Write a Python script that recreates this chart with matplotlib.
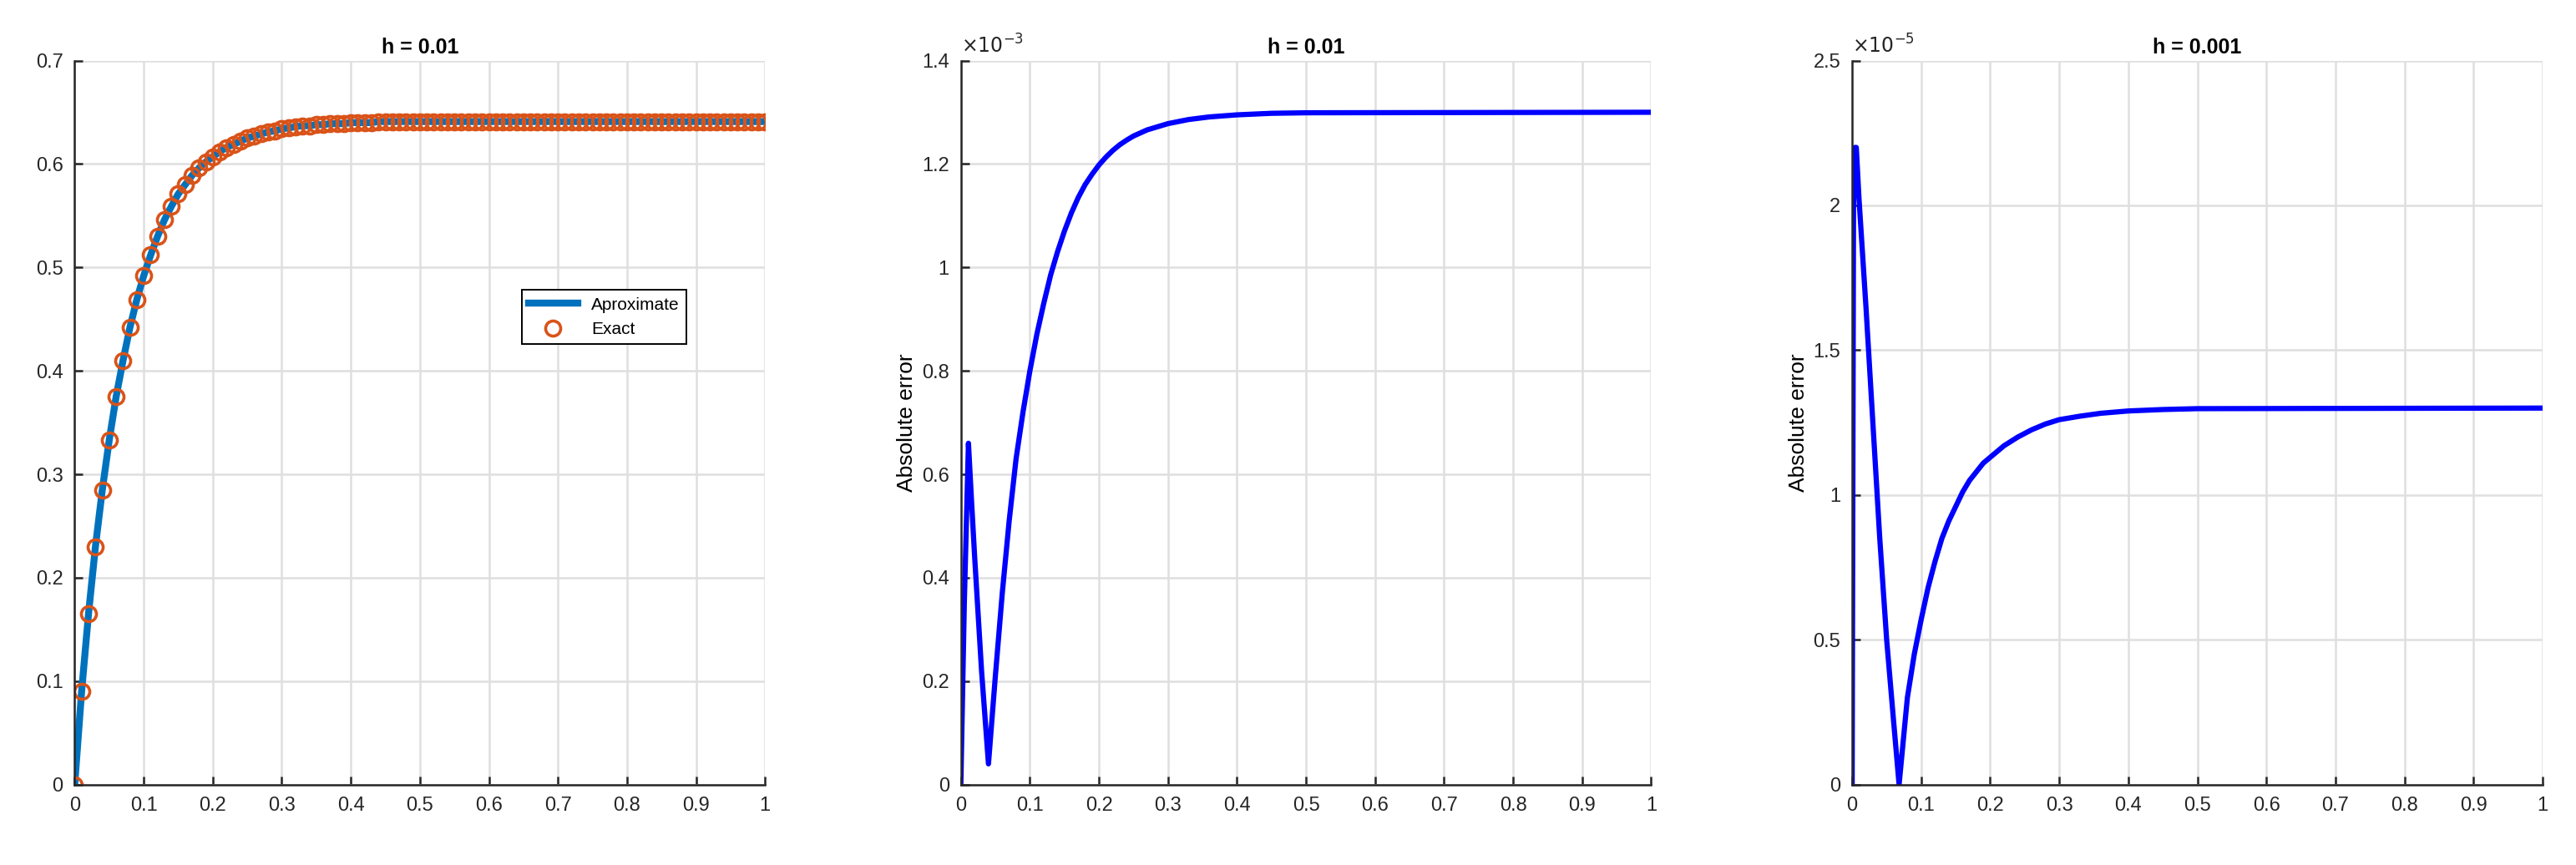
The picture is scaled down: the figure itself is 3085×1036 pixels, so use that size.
import matplotlib
matplotlib.use("Agg")
import matplotlib.pyplot as plt
import numpy as np

plt.rcParams['font.family'] = ['Liberation Sans', 'DejaVu Sans']

t_exact = [i/100 for i in range(101)]
u_exact = [0.0, 0.09, 0.165, 0.23, 0.285, 0.333, 0.375, 0.41, 0.442, 0.469, 0.492,
           0.512, 0.53, 0.546, 0.559, 0.571, 0.58, 0.589, 0.596, 0.602, 0.607,
           0.612, 0.616, 0.619, 0.622, 0.625, 0.627, 0.629, 0.631, 0.632, 0.634,
           0.635, 0.636, 0.637, 0.637, 0.638, 0.638, 0.639, 0.639, 0.639, 0.640,
           0.640, 0.640, 0.640, 0.641, 0.641] + [0.641]*55
u_approx = u_exact

t_err1 = [0, 0.005, 0.011, 0.015, 0.02, 0.03, 0.04, 0.05, 0.06, 0.07, 0.08, 0.09, 0.1,
          0.11, 0.12, 0.13, 0.14, 0.15, 0.16, 0.17, 0.18, 0.19, 0.2, 0.21, 0.22, 0.23,
          0.24, 0.25, 0.27, 0.3, 0.33, 0.36, 0.4, 0.45, 0.5, 1.0]
err1 = [0, 0.35, 0.66, 0.56, 0.44, 0.22, 0.04, 0.21, 0.37, 0.51, 0.63, 0.72, 0.80,
        0.87, 0.93, 0.985, 1.03, 1.07, 1.105, 1.135, 1.16, 1.18, 1.198, 1.213, 1.226, 1.237,
        1.246, 1.254, 1.266, 1.278, 1.286, 1.291, 1.295, 1.298, 1.299, 1.3]

t_err2 = [0, 0.001, 0.002, 0.004, 0.006, 0.01, 0.02, 0.03, 0.04, 0.05, 0.06, 0.068,
          0.08, 0.09, 0.1, 0.11, 0.12, 0.13, 0.14, 0.15, 0.16, 0.17, 0.18, 0.19, 0.2,
          0.22, 0.24, 0.26, 0.28, 0.3, 0.33, 0.36, 0.4, 0.45, 0.5, 1.0]
err2 = [0, 1.0, 2.0, 2.2, 2.2, 2.02, 1.65, 1.25, 0.85, 0.5, 0.22, 0.0,
        0.3, 0.45, 0.57, 0.68, 0.77, 0.85, 0.91, 0.96, 1.01, 1.05, 1.08, 1.11, 1.13,
        1.17, 1.20, 1.225, 1.245, 1.26, 1.272, 1.282, 1.29, 1.295, 1.298, 1.3]

fig = plt.figure(figsize=(30.85, 10.36), dpi=100)
pos = [0.029, 0.373, 0.719]
axes = [fig.add_axes([p, 0.093, 0.268, 0.837]) for p in pos]

def style(ax):
    ax.grid(True, color='#dfdfdf', linewidth=1.8)
    ax.set_axisbelow(True)
    for s in ['top', 'right']:
        ax.spines[s].set_visible(False)
    for s in ['left', 'bottom']:
        ax.spines[s].set_linewidth(1.8)
        ax.spines[s].set_color('#262626')
    ax.tick_params(direction='in', labelsize=17, colors='#262626', length=7, width=1.8, pad=10)
    ax.set_xlim(0, 1)
    ax.set_xticks(np.arange(0, 1.01, 0.1))
    ax.set_xticklabels(['0'] + [f'{v:.1f}' for v in np.arange(0.1, 0.95, 0.1)] + ['1'])

ax = axes[0]
style(ax)
ax.plot(t_exact, u_approx, color='#0072bd', lw=6, label='Aproximate')
ax.plot(t_exact, u_exact, 'o', ms=13, mfc='none', mec='#d95319', mew=2.6, label='Exact', ls='none')
ax.set_ylim(0, 0.7)
ax.set_yticks(np.arange(0, 0.71, 0.1))
ax.set_yticklabels(['0'] + [f'{v:.1f}' for v in np.arange(0.1, 0.71, 0.1)])
ax.set_title('h = 0.01', fontsize=18, fontweight='bold')
leg = ax.legend(loc='upper left', bbox_to_anchor=(0.635, 0.695), fontsize=15,
                fancybox=False, edgecolor='black', framealpha=1, handlelength=2.8)
leg.get_frame().set_linewidth(1.4)

ax = axes[1]
style(ax)
ax.plot(t_err1, err1, color='blue', lw=4.5)
ax.set_ylim(0, 1.4)
ax.set_yticks(np.arange(0, 1.41, 0.2))
ax.set_yticklabels(['0', '0.2', '0.4', '0.6', '0.8', '1', '1.2', '1.4'])
ax.set_ylabel('Absolute error', fontsize=19)
ax.set_title('h = 0.01', fontsize=18, fontweight='bold')
ax.text(0.0, 1.005, r'$\times10^{-3}$', transform=ax.transAxes, fontsize=17, va='bottom', color='#262626')

ax = axes[2]
style(ax)
ax.plot(t_err2, err2, color='blue', lw=4.5)
ax.set_ylim(0, 2.5)
ax.set_yticks(np.arange(0, 2.51, 0.5))
ax.set_yticklabels(['0', '0.5', '1', '1.5', '2', '2.5'])
ax.set_ylabel('Absolute error', fontsize=19)
ax.set_title('h = 0.001', fontsize=18, fontweight='bold')
ax.text(0.0, 1.005, r'$\times10^{-5}$', transform=ax.transAxes, fontsize=17, va='bottom', color='#262626')

fig.savefig('out.png', dpi=100, facecolor='white')
